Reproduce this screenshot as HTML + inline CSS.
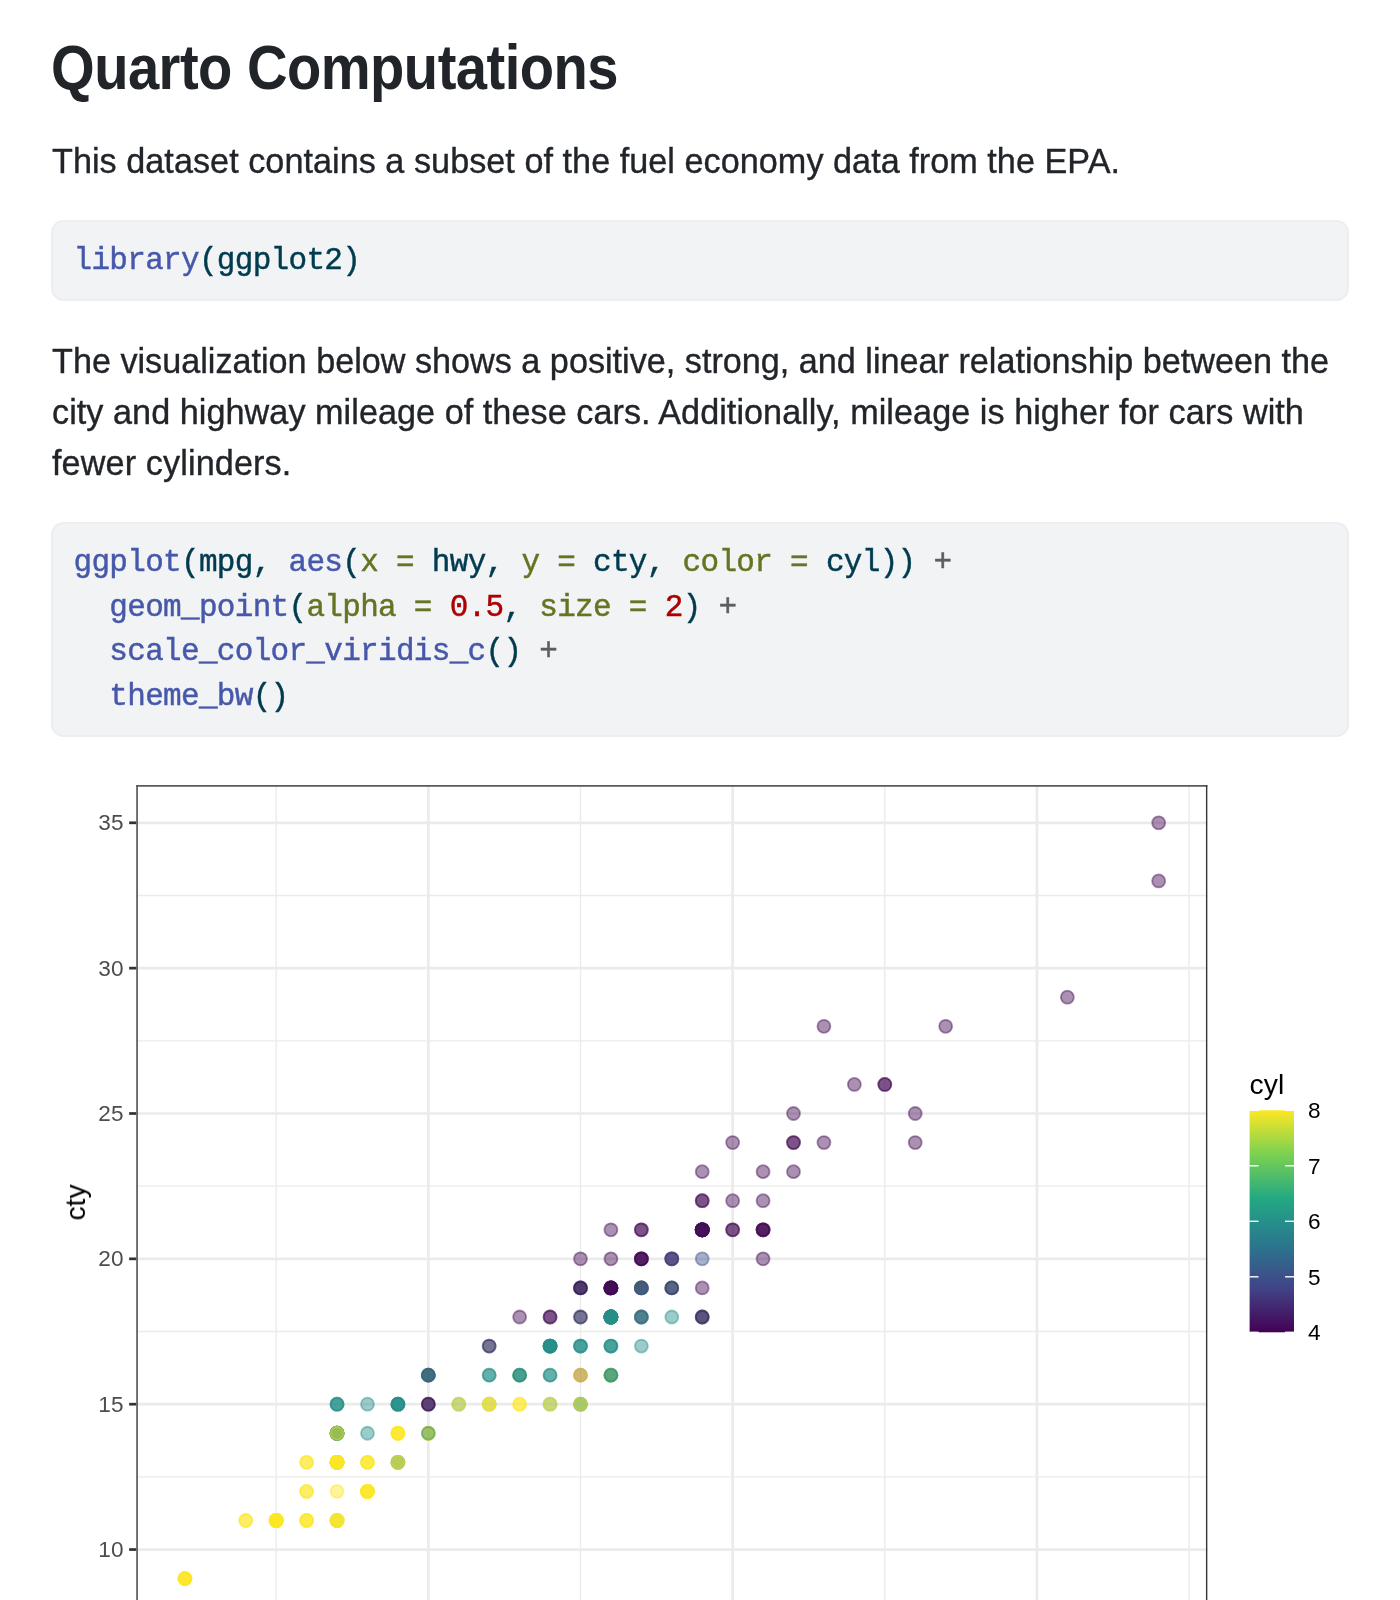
<!DOCTYPE html>
<html><head><meta charset="utf-8"><title>Quarto Computations</title>
<style>
html,body{margin:0;padding:0;background:#fff}
body{width:1400px;height:1600px;position:relative;overflow:hidden;font-family:"Liberation Sans",sans-serif;color:#212529}
#wrap{position:absolute;left:0;top:0;width:1400px;height:1600px;will-change:transform}
.abs{position:absolute;white-space:nowrap;margin:0}
h1{font-weight:700;-webkit-text-stroke:0px #fff;font-size:63.8px;letter-spacing:-0.6px;line-height:1;left:50.5px;top:35.5px;transform-origin:0 0;transform:scaleX(0.88)}
.p{-webkit-text-stroke:0.35px #212529;font-size:34.2px;line-height:51px;left:52px}
.code{left:51px;width:1298px;box-sizing:border-box;background:#f1f3f5;border:2px solid #eceef1;border-radius:12.5px;}
.code pre{margin:0;padding:17px 0 0 20.5px;font-family:"Liberation Mono",monospace;font-size:31px;line-height:44.7px;color:#003B4F;-webkit-text-stroke:0.45px currentColor;letter-spacing:-0.69px}
.fu{color:#4758AB} .at{color:#657422} .dv{color:#AD0000} .op{color:#5E5E5E}
</style></head><body><div id="wrap">
<h1 class="abs" id="h1">Quarto Computations</h1>
<div class="abs p" style="top:136px;letter-spacing:0.037px">This dataset contains a subset of the fuel economy data from the EPA.</div>
<div class="abs code" style="top:220px;height:81px"><pre><span class="fu">library</span>(ggplot2)</pre></div>
<div class="abs p" style="top:336px;letter-spacing:-0.0px">The visualization below shows a positive, strong, and linear relationship between the</div>
<div class="abs p" style="top:387px;letter-spacing:0.048px">city and highway mileage of these cars. Additionally, mileage is higher for cars with</div>
<div class="abs p" style="top:438px;letter-spacing:0.12px">fewer cylinders.</div>
<div class="abs code" style="top:522px;height:214.8px"><pre><span class="fu">ggplot</span>(mpg, <span class="fu">aes</span>(<span class="at">x =</span> hwy, <span class="at">y =</span> cty, <span class="at">color =</span> cyl)) <span class="op">+</span>
  <span class="fu">geom_point</span>(<span class="at">alpha =</span> <span class="dv">0.5</span>, <span class="at">size =</span> <span class="dv">2</span>) <span class="op">+</span>
  <span class="fu">scale_color_viridis_c</span>() <span class="op">+</span>
  <span class="fu">theme_bw</span>()</pre></div>
<svg width="1400" height="1600" viewBox="0 0 1400 1600" style="position:absolute;left:0;top:0">
<rect x="136.21" y="785.01" width="1071.14" height="834.99" fill="#fff"/>
<g stroke="#ebebeb" stroke-width="1.37" fill="none">
<line x1="276.19" x2="276.19" y1="785.01" y2="1620"/>
<line x1="580.49" x2="580.49" y1="785.01" y2="1620"/>
<line x1="884.79" x2="884.79" y1="785.01" y2="1620"/>
<line x1="1189.09" x2="1189.09" y1="785.01" y2="1620"/>
<line x1="136.21" x2="1207.35" y1="1476.88" y2="1476.88"/>
<line x1="136.21" x2="1207.35" y1="1331.53" y2="1331.53"/>
<line x1="136.21" x2="1207.35" y1="1186.17" y2="1186.17"/>
<line x1="136.21" x2="1207.35" y1="1040.83" y2="1040.83"/>
<line x1="136.21" x2="1207.35" y1="895.47" y2="895.47"/>
</g>
<g stroke="#ebebeb" stroke-width="2.74" fill="none">
<line x1="428.34" x2="428.34" y1="785.01" y2="1620"/>
<line x1="732.64" x2="732.64" y1="785.01" y2="1620"/>
<line x1="1036.94" x2="1036.94" y1="785.01" y2="1620"/>
<line x1="136.21" x2="1207.35" y1="1549.55" y2="1549.55"/>
<line x1="136.21" x2="1207.35" y1="1404.20" y2="1404.20"/>
<line x1="136.21" x2="1207.35" y1="1258.85" y2="1258.85"/>
<line x1="136.21" x2="1207.35" y1="1113.50" y2="1113.50"/>
<line x1="136.21" x2="1207.35" y1="968.15" y2="968.15"/>
<line x1="136.21" x2="1207.35" y1="822.80" y2="822.80"/>
</g>
<g stroke-width="1.8" fill-opacity=".455" stroke-opacity=".455">
<circle cx="702.21" cy="1316.99" r="6.5" fill="#440C54" stroke="#440C54"/>
<circle cx="702.21" cy="1229.78" r="6.5" fill="#440C54" stroke="#440C54"/>
<circle cx="763.07" cy="1258.85" r="6.5" fill="#440C54" stroke="#440C54"/>
<circle cx="732.64" cy="1229.78" r="6.5" fill="#440C54" stroke="#440C54"/>
<circle cx="610.92" cy="1375.13" r="6.5" fill="#268E89" stroke="#268E89"/>
<circle cx="610.92" cy="1316.99" r="6.5" fill="#268E89" stroke="#268E89"/>
<circle cx="641.35" cy="1316.99" r="6.5" fill="#268E89" stroke="#268E89"/>
<circle cx="610.92" cy="1316.99" r="6.5" fill="#440C54" stroke="#440C54"/>
<circle cx="580.49" cy="1375.13" r="6.5" fill="#440C54" stroke="#440C54"/>
<circle cx="671.78" cy="1258.85" r="6.5" fill="#440C54" stroke="#440C54"/>
<circle cx="641.35" cy="1287.92" r="6.5" fill="#440C54" stroke="#440C54"/>
<circle cx="580.49" cy="1404.20" r="6.5" fill="#268E89" stroke="#268E89"/>
<circle cx="580.49" cy="1346.06" r="6.5" fill="#268E89" stroke="#268E89"/>
<circle cx="580.49" cy="1346.06" r="6.5" fill="#268E89" stroke="#268E89"/>
<circle cx="580.49" cy="1404.20" r="6.5" fill="#268E89" stroke="#268E89"/>
<circle cx="550.06" cy="1404.20" r="6.5" fill="#268E89" stroke="#268E89"/>
<circle cx="580.49" cy="1346.06" r="6.5" fill="#268E89" stroke="#268E89"/>
<circle cx="519.63" cy="1375.13" r="6.5" fill="#FDE725" stroke="#FDE725"/>
<circle cx="428.34" cy="1433.27" r="6.5" fill="#FDE725" stroke="#FDE725"/>
<circle cx="276.19" cy="1520.48" r="6.5" fill="#FDE725" stroke="#FDE725"/>
<circle cx="428.34" cy="1433.27" r="6.5" fill="#FDE725" stroke="#FDE725"/>
<circle cx="337.05" cy="1462.34" r="6.5" fill="#FDE725" stroke="#FDE725"/>
<circle cx="337.05" cy="1491.41" r="6.5" fill="#FDE725" stroke="#FDE725"/>
<circle cx="610.92" cy="1375.13" r="6.5" fill="#FDE725" stroke="#FDE725"/>
<circle cx="519.63" cy="1404.20" r="6.5" fill="#FDE725" stroke="#FDE725"/>
<circle cx="610.92" cy="1375.13" r="6.5" fill="#FDE725" stroke="#FDE725"/>
<circle cx="580.49" cy="1404.20" r="6.5" fill="#FDE725" stroke="#FDE725"/>
<circle cx="550.06" cy="1404.20" r="6.5" fill="#FDE725" stroke="#FDE725"/>
<circle cx="397.91" cy="1433.27" r="6.5" fill="#FDE725" stroke="#FDE725"/>
<circle cx="245.76" cy="1520.48" r="6.5" fill="#FDE725" stroke="#FDE725"/>
<circle cx="276.19" cy="1520.48" r="6.5" fill="#FDE725" stroke="#FDE725"/>
<circle cx="337.05" cy="1433.27" r="6.5" fill="#FDE725" stroke="#FDE725"/>
<circle cx="641.35" cy="1287.92" r="6.5" fill="#440C54" stroke="#440C54"/>
<circle cx="732.64" cy="1200.71" r="6.5" fill="#440C54" stroke="#440C54"/>
<circle cx="610.92" cy="1316.99" r="6.5" fill="#268E89" stroke="#268E89"/>
<circle cx="702.21" cy="1316.99" r="6.5" fill="#268E89" stroke="#268E89"/>
<circle cx="610.92" cy="1346.06" r="6.5" fill="#268E89" stroke="#268E89"/>
<circle cx="550.06" cy="1316.99" r="6.5" fill="#440C54" stroke="#440C54"/>
<circle cx="550.06" cy="1346.06" r="6.5" fill="#268E89" stroke="#268E89"/>
<circle cx="489.20" cy="1375.13" r="6.5" fill="#268E89" stroke="#268E89"/>
<circle cx="489.20" cy="1375.13" r="6.5" fill="#268E89" stroke="#268E89"/>
<circle cx="550.06" cy="1346.06" r="6.5" fill="#268E89" stroke="#268E89"/>
<circle cx="550.06" cy="1346.06" r="6.5" fill="#268E89" stroke="#268E89"/>
<circle cx="337.05" cy="1520.48" r="6.5" fill="#268E89" stroke="#268E89"/>
<circle cx="489.20" cy="1404.20" r="6.5" fill="#268E89" stroke="#268E89"/>
<circle cx="458.77" cy="1404.20" r="6.5" fill="#268E89" stroke="#268E89"/>
<circle cx="519.63" cy="1375.13" r="6.5" fill="#268E89" stroke="#268E89"/>
<circle cx="519.63" cy="1375.13" r="6.5" fill="#268E89" stroke="#268E89"/>
<circle cx="397.91" cy="1404.20" r="6.5" fill="#268E89" stroke="#268E89"/>
<circle cx="367.48" cy="1433.27" r="6.5" fill="#268E89" stroke="#268E89"/>
<circle cx="337.05" cy="1462.34" r="6.5" fill="#268E89" stroke="#268E89"/>
<circle cx="337.05" cy="1433.27" r="6.5" fill="#268E89" stroke="#268E89"/>
<circle cx="397.91" cy="1433.27" r="6.5" fill="#FDE725" stroke="#FDE725"/>
<circle cx="397.91" cy="1433.27" r="6.5" fill="#FDE725" stroke="#FDE725"/>
<circle cx="184.90" cy="1578.62" r="6.5" fill="#FDE725" stroke="#FDE725"/>
<circle cx="337.05" cy="1520.48" r="6.5" fill="#FDE725" stroke="#FDE725"/>
<circle cx="276.19" cy="1520.48" r="6.5" fill="#FDE725" stroke="#FDE725"/>
<circle cx="337.05" cy="1462.34" r="6.5" fill="#268E89" stroke="#268E89"/>
<circle cx="337.05" cy="1462.34" r="6.5" fill="#FDE725" stroke="#FDE725"/>
<circle cx="184.90" cy="1578.62" r="6.5" fill="#FDE725" stroke="#FDE725"/>
<circle cx="337.05" cy="1462.34" r="6.5" fill="#FDE725" stroke="#FDE725"/>
<circle cx="306.62" cy="1520.48" r="6.5" fill="#FDE725" stroke="#FDE725"/>
<circle cx="367.48" cy="1462.34" r="6.5" fill="#FDE725" stroke="#FDE725"/>
<circle cx="276.19" cy="1520.48" r="6.5" fill="#FDE725" stroke="#FDE725"/>
<circle cx="306.62" cy="1491.41" r="6.5" fill="#FDE725" stroke="#FDE725"/>
<circle cx="184.90" cy="1578.62" r="6.5" fill="#FDE725" stroke="#FDE725"/>
<circle cx="337.05" cy="1462.34" r="6.5" fill="#FDE725" stroke="#FDE725"/>
<circle cx="337.05" cy="1462.34" r="6.5" fill="#FDE725" stroke="#FDE725"/>
<circle cx="306.62" cy="1491.41" r="6.5" fill="#FDE725" stroke="#FDE725"/>
<circle cx="184.90" cy="1578.62" r="6.5" fill="#FDE725" stroke="#FDE725"/>
<circle cx="276.19" cy="1520.48" r="6.5" fill="#FDE725" stroke="#FDE725"/>
<circle cx="306.62" cy="1520.48" r="6.5" fill="#FDE725" stroke="#FDE725"/>
<circle cx="337.05" cy="1462.34" r="6.5" fill="#FDE725" stroke="#FDE725"/>
<circle cx="276.19" cy="1520.48" r="6.5" fill="#FDE725" stroke="#FDE725"/>
<circle cx="337.05" cy="1520.48" r="6.5" fill="#FDE725" stroke="#FDE725"/>
<circle cx="337.05" cy="1520.48" r="6.5" fill="#FDE725" stroke="#FDE725"/>
<circle cx="367.48" cy="1491.41" r="6.5" fill="#FDE725" stroke="#FDE725"/>
<circle cx="337.05" cy="1433.27" r="6.5" fill="#268E89" stroke="#268E89"/>
<circle cx="397.91" cy="1404.20" r="6.5" fill="#268E89" stroke="#268E89"/>
<circle cx="337.05" cy="1433.27" r="6.5" fill="#268E89" stroke="#268E89"/>
<circle cx="397.91" cy="1462.34" r="6.5" fill="#268E89" stroke="#268E89"/>
<circle cx="397.91" cy="1462.34" r="6.5" fill="#FDE725" stroke="#FDE725"/>
<circle cx="337.05" cy="1462.34" r="6.5" fill="#FDE725" stroke="#FDE725"/>
<circle cx="337.05" cy="1433.27" r="6.5" fill="#268E89" stroke="#268E89"/>
<circle cx="337.05" cy="1433.27" r="6.5" fill="#268E89" stroke="#268E89"/>
<circle cx="306.62" cy="1462.34" r="6.5" fill="#FDE725" stroke="#FDE725"/>
<circle cx="306.62" cy="1462.34" r="6.5" fill="#FDE725" stroke="#FDE725"/>
<circle cx="337.05" cy="1462.34" r="6.5" fill="#FDE725" stroke="#FDE725"/>
<circle cx="276.19" cy="1520.48" r="6.5" fill="#FDE725" stroke="#FDE725"/>
<circle cx="337.05" cy="1462.34" r="6.5" fill="#FDE725" stroke="#FDE725"/>
<circle cx="610.92" cy="1316.99" r="6.5" fill="#268E89" stroke="#268E89"/>
<circle cx="580.49" cy="1316.99" r="6.5" fill="#268E89" stroke="#268E89"/>
<circle cx="610.92" cy="1346.06" r="6.5" fill="#268E89" stroke="#268E89"/>
<circle cx="550.06" cy="1375.13" r="6.5" fill="#268E89" stroke="#268E89"/>
<circle cx="458.77" cy="1404.20" r="6.5" fill="#FDE725" stroke="#FDE725"/>
<circle cx="489.20" cy="1404.20" r="6.5" fill="#FDE725" stroke="#FDE725"/>
<circle cx="519.63" cy="1404.20" r="6.5" fill="#FDE725" stroke="#FDE725"/>
<circle cx="489.20" cy="1404.20" r="6.5" fill="#FDE725" stroke="#FDE725"/>
<circle cx="428.34" cy="1433.27" r="6.5" fill="#FDE725" stroke="#FDE725"/>
<circle cx="823.93" cy="1026.29" r="6.5" fill="#440C54" stroke="#440C54"/>
<circle cx="793.50" cy="1142.57" r="6.5" fill="#440C54" stroke="#440C54"/>
<circle cx="793.50" cy="1113.50" r="6.5" fill="#440C54" stroke="#440C54"/>
<circle cx="702.21" cy="1171.64" r="6.5" fill="#440C54" stroke="#440C54"/>
<circle cx="793.50" cy="1142.57" r="6.5" fill="#440C54" stroke="#440C54"/>
<circle cx="854.36" cy="1084.43" r="6.5" fill="#440C54" stroke="#440C54"/>
<circle cx="915.22" cy="1113.50" r="6.5" fill="#440C54" stroke="#440C54"/>
<circle cx="915.22" cy="1142.57" r="6.5" fill="#440C54" stroke="#440C54"/>
<circle cx="702.21" cy="1229.78" r="6.5" fill="#440C54" stroke="#440C54"/>
<circle cx="610.92" cy="1316.99" r="6.5" fill="#440C54" stroke="#440C54"/>
<circle cx="641.35" cy="1316.99" r="6.5" fill="#440C54" stroke="#440C54"/>
<circle cx="732.64" cy="1229.78" r="6.5" fill="#440C54" stroke="#440C54"/>
<circle cx="763.07" cy="1229.78" r="6.5" fill="#440C54" stroke="#440C54"/>
<circle cx="610.92" cy="1316.99" r="6.5" fill="#268E89" stroke="#268E89"/>
<circle cx="610.92" cy="1316.99" r="6.5" fill="#268E89" stroke="#268E89"/>
<circle cx="671.78" cy="1287.92" r="6.5" fill="#268E89" stroke="#268E89"/>
<circle cx="610.92" cy="1287.92" r="6.5" fill="#440C54" stroke="#440C54"/>
<circle cx="702.21" cy="1287.92" r="6.5" fill="#440C54" stroke="#440C54"/>
<circle cx="671.78" cy="1258.85" r="6.5" fill="#440C54" stroke="#440C54"/>
<circle cx="641.35" cy="1258.85" r="6.5" fill="#440C54" stroke="#440C54"/>
<circle cx="550.06" cy="1346.06" r="6.5" fill="#268E89" stroke="#268E89"/>
<circle cx="550.06" cy="1375.13" r="6.5" fill="#268E89" stroke="#268E89"/>
<circle cx="550.06" cy="1346.06" r="6.5" fill="#268E89" stroke="#268E89"/>
<circle cx="489.20" cy="1346.06" r="6.5" fill="#268E89" stroke="#268E89"/>
<circle cx="397.91" cy="1404.20" r="6.5" fill="#268E89" stroke="#268E89"/>
<circle cx="428.34" cy="1404.20" r="6.5" fill="#268E89" stroke="#268E89"/>
<circle cx="337.05" cy="1433.27" r="6.5" fill="#FDE725" stroke="#FDE725"/>
<circle cx="184.90" cy="1578.62" r="6.5" fill="#FDE725" stroke="#FDE725"/>
<circle cx="397.91" cy="1433.27" r="6.5" fill="#FDE725" stroke="#FDE725"/>
<circle cx="367.48" cy="1462.34" r="6.5" fill="#FDE725" stroke="#FDE725"/>
<circle cx="245.76" cy="1520.48" r="6.5" fill="#FDE725" stroke="#FDE725"/>
<circle cx="276.19" cy="1520.48" r="6.5" fill="#FDE725" stroke="#FDE725"/>
<circle cx="367.48" cy="1491.41" r="6.5" fill="#FDE725" stroke="#FDE725"/>
<circle cx="367.48" cy="1491.41" r="6.5" fill="#FDE725" stroke="#FDE725"/>
<circle cx="276.19" cy="1520.48" r="6.5" fill="#FDE725" stroke="#FDE725"/>
<circle cx="337.05" cy="1520.48" r="6.5" fill="#FDE725" stroke="#FDE725"/>
<circle cx="306.62" cy="1520.48" r="6.5" fill="#FDE725" stroke="#FDE725"/>
<circle cx="367.48" cy="1491.41" r="6.5" fill="#FDE725" stroke="#FDE725"/>
<circle cx="337.05" cy="1433.27" r="6.5" fill="#268E89" stroke="#268E89"/>
<circle cx="397.91" cy="1462.34" r="6.5" fill="#268E89" stroke="#268E89"/>
<circle cx="397.91" cy="1462.34" r="6.5" fill="#FDE725" stroke="#FDE725"/>
<circle cx="337.05" cy="1462.34" r="6.5" fill="#FDE725" stroke="#FDE725"/>
<circle cx="702.21" cy="1229.78" r="6.5" fill="#440C54" stroke="#440C54"/>
<circle cx="641.35" cy="1287.92" r="6.5" fill="#440C54" stroke="#440C54"/>
<circle cx="763.07" cy="1171.64" r="6.5" fill="#440C54" stroke="#440C54"/>
<circle cx="793.50" cy="1171.64" r="6.5" fill="#440C54" stroke="#440C54"/>
<circle cx="641.35" cy="1287.92" r="6.5" fill="#268E89" stroke="#268E89"/>
<circle cx="610.92" cy="1287.92" r="6.5" fill="#268E89" stroke="#268E89"/>
<circle cx="610.92" cy="1316.99" r="6.5" fill="#268E89" stroke="#268E89"/>
<circle cx="580.49" cy="1287.92" r="6.5" fill="#268E89" stroke="#268E89"/>
<circle cx="580.49" cy="1287.92" r="6.5" fill="#268E89" stroke="#268E89"/>
<circle cx="337.05" cy="1433.27" r="6.5" fill="#268E89" stroke="#268E89"/>
<circle cx="337.05" cy="1404.20" r="6.5" fill="#268E89" stroke="#268E89"/>
<circle cx="428.34" cy="1433.27" r="6.5" fill="#268E89" stroke="#268E89"/>
<circle cx="367.48" cy="1491.41" r="6.5" fill="#FDE725" stroke="#FDE725"/>
<circle cx="610.92" cy="1316.99" r="6.5" fill="#268E89" stroke="#268E89"/>
<circle cx="610.92" cy="1375.13" r="6.5" fill="#268E89" stroke="#268E89"/>
<circle cx="641.35" cy="1346.06" r="6.5" fill="#268E89" stroke="#268E89"/>
<circle cx="671.78" cy="1316.99" r="6.5" fill="#268E89" stroke="#268E89"/>
<circle cx="580.49" cy="1375.13" r="6.5" fill="#FDE725" stroke="#FDE725"/>
<circle cx="580.49" cy="1316.99" r="6.5" fill="#440C54" stroke="#440C54"/>
<circle cx="550.06" cy="1316.99" r="6.5" fill="#440C54" stroke="#440C54"/>
<circle cx="641.35" cy="1258.85" r="6.5" fill="#440C54" stroke="#440C54"/>
<circle cx="580.49" cy="1287.92" r="6.5" fill="#440C54" stroke="#440C54"/>
<circle cx="610.92" cy="1258.85" r="6.5" fill="#440C54" stroke="#440C54"/>
<circle cx="519.63" cy="1316.99" r="6.5" fill="#440C54" stroke="#440C54"/>
<circle cx="610.92" cy="1229.78" r="6.5" fill="#440C54" stroke="#440C54"/>
<circle cx="610.92" cy="1287.92" r="6.5" fill="#440C54" stroke="#440C54"/>
<circle cx="610.92" cy="1287.92" r="6.5" fill="#440C54" stroke="#440C54"/>
<circle cx="610.92" cy="1287.92" r="6.5" fill="#440C54" stroke="#440C54"/>
<circle cx="580.49" cy="1258.85" r="6.5" fill="#440C54" stroke="#440C54"/>
<circle cx="641.35" cy="1258.85" r="6.5" fill="#440C54" stroke="#440C54"/>
<circle cx="580.49" cy="1287.92" r="6.5" fill="#440C54" stroke="#440C54"/>
<circle cx="641.35" cy="1258.85" r="6.5" fill="#440C54" stroke="#440C54"/>
<circle cx="428.34" cy="1404.20" r="6.5" fill="#440C54" stroke="#440C54"/>
<circle cx="428.34" cy="1375.13" r="6.5" fill="#440C54" stroke="#440C54"/>
<circle cx="397.91" cy="1404.20" r="6.5" fill="#268E89" stroke="#268E89"/>
<circle cx="337.05" cy="1404.20" r="6.5" fill="#268E89" stroke="#268E89"/>
<circle cx="428.34" cy="1375.13" r="6.5" fill="#268E89" stroke="#268E89"/>
<circle cx="337.05" cy="1433.27" r="6.5" fill="#FDE725" stroke="#FDE725"/>
<circle cx="702.21" cy="1229.78" r="6.5" fill="#440C54" stroke="#440C54"/>
<circle cx="641.35" cy="1229.78" r="6.5" fill="#440C54" stroke="#440C54"/>
<circle cx="763.07" cy="1229.78" r="6.5" fill="#440C54" stroke="#440C54"/>
<circle cx="763.07" cy="1229.78" r="6.5" fill="#440C54" stroke="#440C54"/>
<circle cx="610.92" cy="1316.99" r="6.5" fill="#268E89" stroke="#268E89"/>
<circle cx="610.92" cy="1316.99" r="6.5" fill="#268E89" stroke="#268E89"/>
<circle cx="671.78" cy="1287.92" r="6.5" fill="#268E89" stroke="#268E89"/>
<circle cx="641.35" cy="1229.78" r="6.5" fill="#440C54" stroke="#440C54"/>
<circle cx="702.21" cy="1229.78" r="6.5" fill="#440C54" stroke="#440C54"/>
<circle cx="763.07" cy="1229.78" r="6.5" fill="#440C54" stroke="#440C54"/>
<circle cx="763.07" cy="1200.71" r="6.5" fill="#440C54" stroke="#440C54"/>
<circle cx="610.92" cy="1316.99" r="6.5" fill="#268E89" stroke="#268E89"/>
<circle cx="610.92" cy="1316.99" r="6.5" fill="#268E89" stroke="#268E89"/>
<circle cx="641.35" cy="1316.99" r="6.5" fill="#268E89" stroke="#268E89"/>
<circle cx="732.64" cy="1142.57" r="6.5" fill="#440C54" stroke="#440C54"/>
<circle cx="823.93" cy="1142.57" r="6.5" fill="#440C54" stroke="#440C54"/>
<circle cx="884.79" cy="1084.43" r="6.5" fill="#440C54" stroke="#440C54"/>
<circle cx="945.65" cy="1026.29" r="6.5" fill="#440C54" stroke="#440C54"/>
<circle cx="884.79" cy="1084.43" r="6.5" fill="#440C54" stroke="#440C54"/>
<circle cx="276.19" cy="1520.48" r="6.5" fill="#FDE725" stroke="#FDE725"/>
<circle cx="367.48" cy="1462.34" r="6.5" fill="#FDE725" stroke="#FDE725"/>
<circle cx="428.34" cy="1404.20" r="6.5" fill="#440C54" stroke="#440C54"/>
<circle cx="428.34" cy="1375.13" r="6.5" fill="#440C54" stroke="#440C54"/>
<circle cx="489.20" cy="1346.06" r="6.5" fill="#440C54" stroke="#440C54"/>
<circle cx="337.05" cy="1404.20" r="6.5" fill="#268E89" stroke="#268E89"/>
<circle cx="397.91" cy="1404.20" r="6.5" fill="#268E89" stroke="#268E89"/>
<circle cx="367.48" cy="1404.20" r="6.5" fill="#268E89" stroke="#268E89"/>
<circle cx="428.34" cy="1375.13" r="6.5" fill="#268E89" stroke="#268E89"/>
<circle cx="702.21" cy="1229.78" r="6.5" fill="#440C54" stroke="#440C54"/>
<circle cx="610.92" cy="1287.92" r="6.5" fill="#440C54" stroke="#440C54"/>
<circle cx="702.21" cy="1229.78" r="6.5" fill="#440C54" stroke="#440C54"/>
<circle cx="702.21" cy="1200.71" r="6.5" fill="#440C54" stroke="#440C54"/>
<circle cx="550.06" cy="1346.06" r="6.5" fill="#268E89" stroke="#268E89"/>
<circle cx="1158.66" cy="880.94" r="6.5" fill="#440C54" stroke="#440C54"/>
<circle cx="702.21" cy="1229.78" r="6.5" fill="#440C54" stroke="#440C54"/>
<circle cx="610.92" cy="1287.92" r="6.5" fill="#440C54" stroke="#440C54"/>
<circle cx="702.21" cy="1200.71" r="6.5" fill="#440C54" stroke="#440C54"/>
<circle cx="702.21" cy="1229.78" r="6.5" fill="#440C54" stroke="#440C54"/>
<circle cx="702.21" cy="1229.78" r="6.5" fill="#3B528B" stroke="#3B528B"/>
<circle cx="702.21" cy="1229.78" r="6.5" fill="#3B528B" stroke="#3B528B"/>
<circle cx="519.63" cy="1375.13" r="6.5" fill="#268E89" stroke="#268E89"/>
<circle cx="550.06" cy="1346.06" r="6.5" fill="#268E89" stroke="#268E89"/>
<circle cx="1158.66" cy="822.80" r="6.5" fill="#440C54" stroke="#440C54"/>
<circle cx="1067.37" cy="997.22" r="6.5" fill="#440C54" stroke="#440C54"/>
<circle cx="702.21" cy="1229.78" r="6.5" fill="#440C54" stroke="#440C54"/>
<circle cx="610.92" cy="1287.92" r="6.5" fill="#440C54" stroke="#440C54"/>
<circle cx="671.78" cy="1258.85" r="6.5" fill="#3B528B" stroke="#3B528B"/>
<circle cx="702.21" cy="1258.85" r="6.5" fill="#3B528B" stroke="#3B528B"/>
<circle cx="702.21" cy="1229.78" r="6.5" fill="#440C54" stroke="#440C54"/>
<circle cx="702.21" cy="1316.99" r="6.5" fill="#440C54" stroke="#440C54"/>
<circle cx="671.78" cy="1287.92" r="6.5" fill="#440C54" stroke="#440C54"/>
<circle cx="702.21" cy="1229.78" r="6.5" fill="#440C54" stroke="#440C54"/>
<circle cx="610.92" cy="1375.13" r="6.5" fill="#268E89" stroke="#268E89"/>
<circle cx="610.92" cy="1316.99" r="6.5" fill="#268E89" stroke="#268E89"/>
<circle cx="610.92" cy="1346.06" r="6.5" fill="#268E89" stroke="#268E89"/>
</g>
<line x1="136.21" x2="1207.35" y1="785.81" y2="785.81" stroke="#5a5a5a" stroke-width="1.8"/>
<line x1="137.06" x2="137.06" y1="785.01" y2="1620" stroke="#5a5a5a" stroke-width="1.7"/>
<line x1="1206.66" x2="1206.66" y1="785.01" y2="1620" stroke="#333" stroke-width="1.38"/>
<g stroke="#333" stroke-width="2.74">
<line x1="129.14" x2="136.21" y1="1549.55" y2="1549.55"/>
<line x1="129.14" x2="136.21" y1="1404.20" y2="1404.20"/>
<line x1="129.14" x2="136.21" y1="1258.85" y2="1258.85"/>
<line x1="129.14" x2="136.21" y1="1113.50" y2="1113.50"/>
<line x1="129.14" x2="136.21" y1="968.15" y2="968.15"/>
<line x1="129.14" x2="136.21" y1="822.80" y2="822.80"/>
</g>
<g font-family="Liberation Sans, sans-serif" font-size="22.6" fill="#4d4d4d" text-anchor="end">
<text x="123.48" y="1557.15">10</text>
<text x="123.48" y="1411.80">15</text>
<text x="123.48" y="1266.45">20</text>
<text x="123.48" y="1121.10">25</text>
<text x="123.48" y="975.75">30</text>
<text x="123.48" y="830.40">35</text>
</g>
<text font-family="Liberation Sans, sans-serif" font-size="28.3" fill="#000" text-anchor="middle" transform="translate(85.0,1202.5) rotate(-90)">cty</text>
<defs><linearGradient id="vg" x1="0" y1="1" x2="0" y2="0">
<stop offset="0.0" stop-color="#440154"/>
<stop offset="0.2" stop-color="#414487"/>
<stop offset="0.4" stop-color="#2A788E"/>
<stop offset="0.6" stop-color="#22A884"/>
<stop offset="0.8" stop-color="#7AD151"/>
<stop offset="1.0" stop-color="#FDE725"/>
</linearGradient></defs>
<text font-family="Liberation Sans, sans-serif" font-size="28.3" fill="#000" x="1249.6" y="1093.5">cyl</text>
<rect x="1249.6" y="1110.3" width="44.4" height="222.0" fill="url(#vg)"/>
<g stroke="#fff" stroke-width="1.4">
<line x1="1249.6" x2="1258.5" y1="1332.30" y2="1332.30"/>
<line x1="1285.1" x2="1294.0" y1="1332.30" y2="1332.30"/>
<line x1="1249.6" x2="1258.5" y1="1276.80" y2="1276.80"/>
<line x1="1285.1" x2="1294.0" y1="1276.80" y2="1276.80"/>
<line x1="1249.6" x2="1258.5" y1="1221.30" y2="1221.30"/>
<line x1="1285.1" x2="1294.0" y1="1221.30" y2="1221.30"/>
<line x1="1249.6" x2="1258.5" y1="1165.80" y2="1165.80"/>
<line x1="1285.1" x2="1294.0" y1="1165.80" y2="1165.80"/>
<line x1="1249.6" x2="1258.5" y1="1110.30" y2="1110.30"/>
<line x1="1285.1" x2="1294.0" y1="1110.30" y2="1110.30"/>
</g>
<g font-family="Liberation Sans, sans-serif" font-size="22.6" fill="#000">
<text x="1308" y="1340.40">4</text>
<text x="1308" y="1284.90">5</text>
<text x="1308" y="1229.40">6</text>
<text x="1308" y="1173.90">7</text>
<text x="1308" y="1118.40">8</text>
</g>
</svg>
</div></body></html>
